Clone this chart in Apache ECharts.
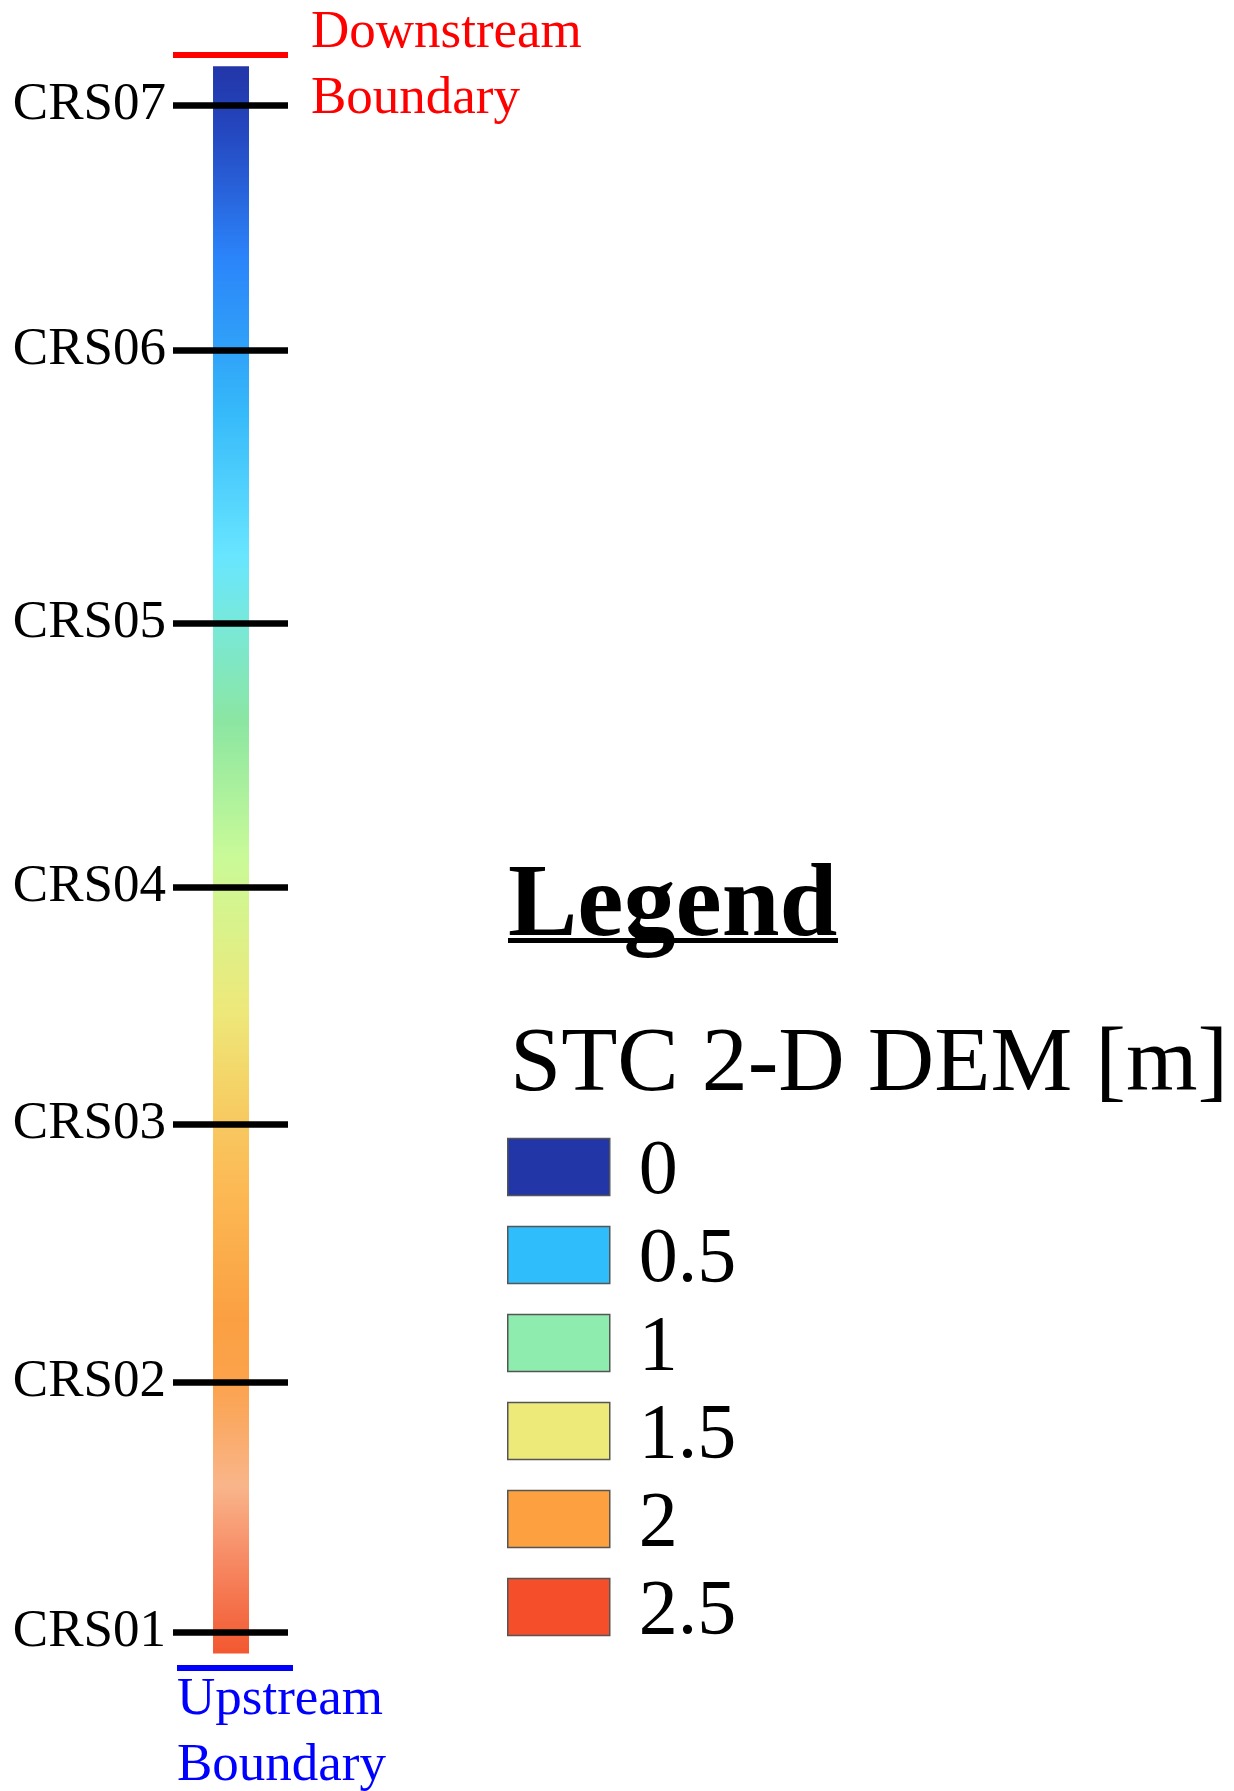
<!DOCTYPE html>
<html>
<head>
<meta charset="utf-8">
<style>
  html, body { margin: 0; padding: 0; background: #ffffff; }
  #chart { width: 1234px; height: 1791px; }
</style>
<script src="https://cdn.jsdelivr.net/npm/echarts@6/dist/echarts.min.js"></script>
</head>
<body>
<div id="chart"></div>
<script>
// ---- DATA (stations along the reach, relative units: 0 = upstream boundary, 1000 = downstream boundary) ----
const crsNames = ['CRS01', 'CRS02', 'CRS03', 'CRS04', 'CRS05', 'CRS06', 'CRS07'];
const crsStations = [22, 177, 337, 484, 648, 817, 969];

const boundaryNames = ['Upstream\nBoundary', 'Downstream\nBoundary'];
const boundaryStations = [0, 1000];

const reachStart = 9;    // start of DEM strip
const reachEnd = 993;    // end of DEM strip

// DEM colour profile along the strip (station, colour)
const profileStations = [993, 955, 916, 875, 817, 779, 689, 648, 587, 503, 407, 363, 337, 299, 216, 177, 113, 74, 9];
const profileColors = ['#2236A8', '#2446BE', '#2862DA', '#2B84FA', '#30A2F8', '#36B9FA', '#68E6FF', '#78E8DA', '#8BE6A2',
                       '#C9FA98', '#EEE87A', '#F4D468', '#F8C860', '#FCBA55', '#FBA042', '#FBA24C', '#F9B58A',
                       '#F7906A', '#F25830'];

// Legend classes (STC 2-D DEM [m])
const legendValues = ['0', '0.5', '1', '1.5', '2', '2.5'];
const legendColors = ['#2236A8', '#30BDFB', '#8EEDAE', '#EEEA7A', '#FDA040', '#F44E2A'];

// ---- CHART ----
const serif = '"Liberation Serif", "Times New Roman", serif';
const chart = echarts.init(document.getElementById('chart'), null, { renderer: 'canvas' });

const gradientStops = profileStations.map((s, i) => ({
  offset: (reachEnd - s) / (reachEnd - reachStart),
  color: profileColors[i]
}));

const BAR_X0 = 0.348, BAR_X1 = 0.661;
const boundaryColors = ['#0000FF', '#FF0000'];

const legendSeries = legendValues.map((v, i) => ({
  name: v,
  type: 'scatter',
  data: [],
  itemStyle: { color: legendColors[i], opacity: 1 }
}));

const option = {
  backgroundColor: '#ffffff',
  animation: false,
  grid: { left: 173, width: 115, top: 55, height: 1613 },
  xAxis: { type: 'value', min: 0, max: 1, show: false },
  yAxis: {
    type: 'value', min: 0, max: 1000, z: 10,
    axisLine: { show: false },
    splitLine: { show: false },
    axisTick: {
      show: true, inside: true, length: 115,
      customValues: crsStations,
      lineStyle: { color: '#000000', width: 6.5 }
    },
    axisLabel: {
      customValues: crsStations,
      formatter: function (v) { return crsNames[crsStations.indexOf(v)]; },
      margin: 7, fontSize: 53, fontFamily: serif, color: '#000000'
    }
  },
  legend: {
    data: legendValues,
    orient: 'vertical',
    left: 507, top: 1134, padding: 0,
    itemWidth: 102, itemHeight: 57, itemGap: 10,
    icon: 'rect', selectedMode: false,
    itemStyle: { borderColor: '#555555', borderWidth: 1.5, opacity: 1 },
    formatter: '{v|{name}}',
    textStyle: {
      fontSize: 78, fontFamily: serif, color: '#000000',
      rich: { v: { fontSize: 78, fontFamily: serif, color: '#000000', padding: [12, 0, 0, 24] } }
    }
  },
  graphic: [
    { type: 'text', left: 508, top: 856, z: 10,
      style: { text: 'Legend', font: 'bold 104px ' + serif, fill: '#000000' } },
    { type: 'rect', shape: { x: 508, y: 938, width: 330, height: 5 }, style: { fill: '#000000' } },
    { type: 'text', left: 510, top: 1020,
      style: { text: 'STC 2-D DEM [m]', font: '92px ' + serif, fill: '#000000' } }
  ],
  series: [
    {
      name: 'DEM strip', type: 'custom', z: 2,
      data: [[reachStart, reachEnd]],
      renderItem: function (params, api) {
        const p0 = api.coord([BAR_X0, api.value(1)]);
        const p1 = api.coord([BAR_X1, api.value(0)]);
        return {
          type: 'rect',
          shape: { x: p0[0], y: p0[1], width: p1[0] - p0[0], height: p1[1] - p0[1] },
          style: { fill: new echarts.graphic.LinearGradient(0, 0, 0, 1, gradientStops) }
        };
      }
    },
    {
      name: 'Boundaries', type: 'custom', z: 3,
      data: boundaryStations.map((s, i) => [s, i]),
      renderItem: function (params, api) {
        const idx = api.value(1);
        const p = api.coord([0, api.value(0)]);
        const cs = params.coordSys;
        const isUp = idx === 0;
        const x0 = cs.x + (isUp ? 4 : 0);
        const x1 = cs.x + cs.width + (isUp ? 5 : 0);
        return {
          type: 'group',
          children: [
            { type: 'line', shape: { x1: x0, y1: p[1], x2: x1, y2: p[1] },
              style: { stroke: boundaryColors[idx], lineWidth: 6 } },
            { type: 'text',
              style: {
                text: boundaryNames[idx],
                x: isUp ? 177 : 311,
                y: isUp ? p[1] + 65 : p[1] + 11,
                fill: boundaryColors[idx],
                font: '53px ' + serif,
                lineHeight: 66,
                align: 'left', verticalAlign: 'middle'
              } }
          ]
        };
      }
    }
  ].concat(legendSeries)
};

chart.setOption(option);
</script>
</body>
</html>
